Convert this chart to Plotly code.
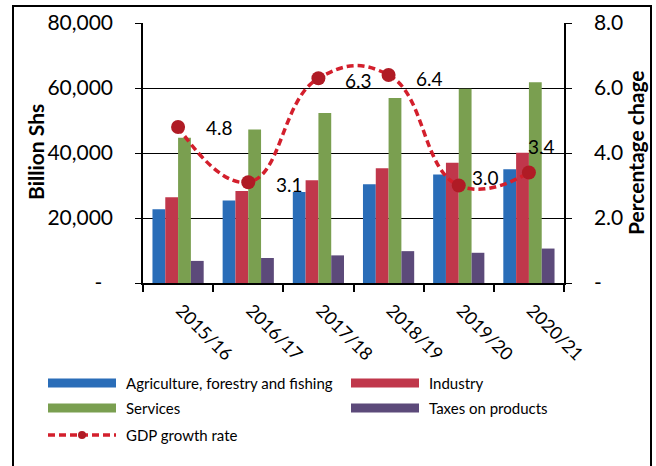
import plotly.graph_objects as go

# ---------------- data ----------------
years = ["2015/16", "2016/17", "2017/18", "2018/19", "2019/20", "2020/21"]
agriculture = [22700, 25400, 28000, 30400, 33400, 35000]
industry = [26400, 28300, 31600, 35300, 37000, 40100]
services = [44700, 47200, 52300, 56900, 59800, 61800]
taxes = [6800, 7700, 8500, 9800, 9300, 10600]
gdp_growth = [4.8, 3.1, 6.3, 6.4, 3.0, 3.4]

left_tickvals = [0, 20000, 40000, 60000, 80000]
left_ticktext = ["-\u00a0\u00a0", "20,000", "40,000", "60,000", "80,000"]
right_tickvals = [0, 2, 4, 6, 8]
right_ticktext = ["-", "2.0", "4.0", "6.0", "8.0"]

# ---------------- styles ----------------
W, H = 656, 466
L, R, T, B = 143, 92, 23, 183
FONT = "Lato"
C_BLUE = "#2a6db8"
C_RED = "#c0374b"
C_GREEN = "#7a9f50"
C_PURPLE = "#5c4a7a"
C_LINE = "#d31f2c"
C_MARK = "#b01b25"

# label offsets (px, right / up) for the data labels of the growth line
label_dx = [41, 41, 40, 41, 27, 13]
label_up = [0, -2, -2, -3, 8, 26]

pw = W - L - R
ph = H - T - B


def px_x(x):
    return (x - L) / pw


def px_y(y):
    return (H - B - y) / ph


fig = go.Figure()
series = [
    ("Agriculture, forestry and fishing", agriculture, C_BLUE),
    ("Industry", industry, C_RED),
    ("Services", services, C_GREEN),
    ("Taxes on products", taxes, C_PURPLE),
]
for name, vals, col in series:
    fig.add_trace(go.Bar(x=years, y=vals, name=name, marker=dict(color=col, line=dict(width=0)),
                         showlegend=False))

fig.add_trace(go.Scatter(
    x=years, y=gdp_growth, name="GDP growth rate", yaxis="y2", mode="lines+markers",
    line=dict(color=C_LINE, width=3.5, dash="7px,4px", shape="spline", smoothing=1.3),
    marker=dict(color=C_MARK, size=14), showlegend=False))

annotations = []
for i, (yr, v) in enumerate(zip(years, gdp_growth)):
    annotations.append(dict(x=yr, y=v, xref="x", yref="y2", text=f"{v:.1f}", showarrow=False,
                            xanchor="center", yanchor="middle",
                            xshift=label_dx[i], yshift=label_up[i],
                            font=dict(family=FONT, size=19, color="black")))

# axis titles
annotations.append(dict(x=px_x(35), y=px_y(152), xref="paper", yref="paper", text="<b>Billion Shs</b>",
                        xanchor="center", yanchor="middle",
                        textangle=-90, showarrow=False, font=dict(family=FONT, size=21, color="black")))
annotations.append(dict(x=px_x(635), y=px_y(153), xref="paper", yref="paper", text="<b>Percentage chage</b>",
                        xanchor="center", yanchor="middle",
                        textangle=-90, showarrow=False, font=dict(family=FONT, size=21, color="black")))

shapes = []
# outer border
shapes.append(dict(type="rect", xref="paper", yref="paper", x0=px_x(13), x1=px_x(651), y0=px_y(475), y1=px_y(6),
                   line=dict(color="black", width=2), fillcolor="rgba(0,0,0,0)", layer="above"))

# manual legend
legend_items = [
    ("Agriculture, forestry and fishing", C_BLUE, 48, 383),
    ("Industry", C_RED, 351, 383),
    ("Services", C_GREEN, 48, 408),
    ("Taxes on products", C_PURPLE, 351, 408),
]
for name, col, x0, yc in legend_items:
    shapes.append(dict(type="rect", xref="paper", yref="paper", x0=px_x(x0), x1=px_x(x0 + 68),
                       y0=px_y(yc + 4.5), y1=px_y(yc - 4.5), fillcolor=col, line=dict(width=0)))
    annotations.append(dict(x=px_x(x0 + 76), y=px_y(yc), xref="paper", yref="paper", text=name,
                            xanchor="left", yanchor="middle", showarrow=False,
                            font=dict(family=FONT, size=15, color="black")))
# GDP legend entry
shapes.append(dict(type="line", xref="paper", yref="paper", x0=px_x(48), x1=px_x(116), y0=px_y(435), y1=px_y(435),
                   line=dict(color=C_LINE, width=3.5, dash="7px,4px")))
shapes.append(dict(type="circle", xref="paper", yref="paper", x0=px_x(78), x1=px_x(86), y0=px_y(439), y1=px_y(431),
                   fillcolor=C_MARK, line=dict(width=0)))
annotations.append(dict(x=px_x(124), y=px_y(435), xref="paper", yref="paper", text="GDP growth rate",
                        xanchor="left", yanchor="middle", showarrow=False,
                        font=dict(family=FONT, size=15, color="black")))

fig.update_layout(
    width=W, height=H, margin=dict(l=L, r=R, t=T, b=B, autoexpand=False),
    paper_bgcolor="white", plot_bgcolor="white",
    font=dict(family=FONT, color="black"),
    barmode="group", bargap=0.27, bargroupgap=0,
    showlegend=False,
    xaxis=dict(type="category", tickson="boundaries", ticks="outside", ticklen=7, tickcolor="black",
               tickwidth=1.5, showline=True, linecolor="black", linewidth=1.5, tickangle=45,
               tickfont=dict(family=FONT, size=18, color="black"), showgrid=False,
               ticklabelstandoff=8, ticklabelshift=3),
    yaxis=dict(range=[0, 80000], tickvals=left_tickvals, ticktext=left_ticktext, showgrid=True,
               gridcolor="black", gridwidth=1.3, showline=True, linecolor="black", linewidth=1.5,
               ticks="outside", ticklen=6, tickcolor="black", tickwidth=1.3, zeroline=False,
               tickfont=dict(family=FONT, size=21, color="black"), ticklabelstandoff=18),
    yaxis2=dict(range=[0, 8], overlaying="y", side="right", tickvals=right_tickvals, ticktext=right_ticktext,
                showgrid=False, showline=True, linecolor="black", linewidth=1.5, ticks="outside", ticklen=6,
                tickcolor="black", tickwidth=1.3, zeroline=False,
                tickfont=dict(family=FONT, size=21, color="black"), ticklabelstandoff=18),
    annotations=annotations, shapes=shapes,
)

fig.write_html("out.html", config={"displayModeBar": False},
               post_script="document.body.style.margin='0px';document.body.style.overflow='hidden';")
